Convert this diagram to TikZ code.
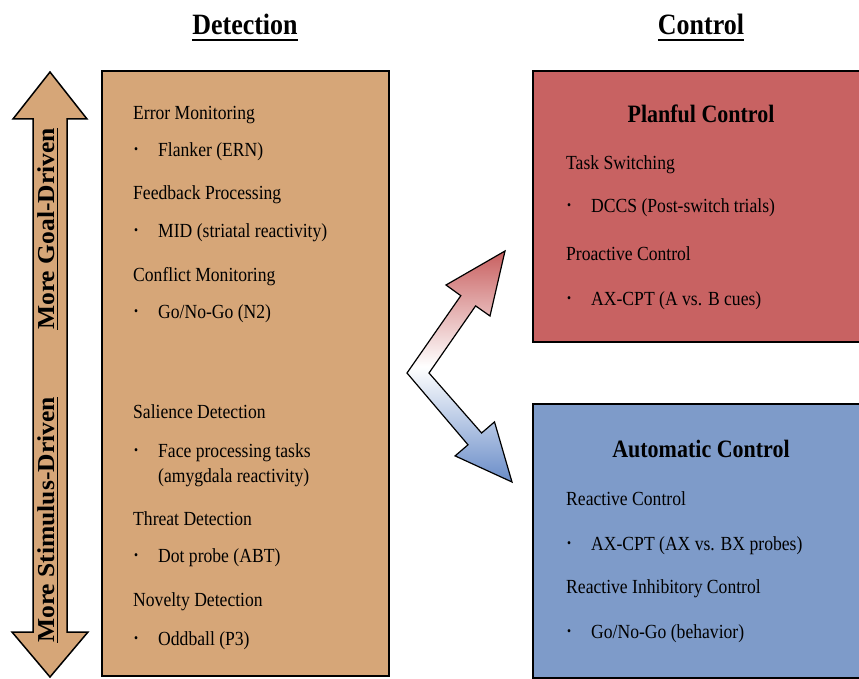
\documentclass[tikz,border=0pt]{standalone}
\usepackage{fontspec}
\setmainfont{Liberation Serif}[FakeStretch=0.88]
\newfontfamily\sidefont{Liberation Serif}[FakeStretch=1.05]
\definecolor{detfill}{RGB}{214,166,120}
\definecolor{planfill}{RGB}{200,98,98}
\definecolor{autofill}{RGB}{126,155,201}
\definecolor{arrred}{RGB}{200,95,95}
\definecolor{arrblue}{RGB}{105,140,200}
\newcommand{\bul}[1]{\makebox[24pt][l]{\raisebox{3pt}{\fontsize{13}{13}\selectfont\textbullet}}#1}

\begin{document}
\begin{tikzpicture}
	[x=1pt,y=-1pt,
	 txt/.style={anchor=base west,inner sep=0pt,font=\fontsize{20}{22}\selectfont},
	 hd/.style={anchor=base,inner sep=0pt,font=\fontsize{25}{28}\selectfont\bfseries},
	 ttl/.style={anchor=base,inner sep=0pt,font=\fontsize{29.5}{32}\selectfont\bfseries},
	 side/.style={anchor=base,inner sep=0pt,rotate=90,font=\sidefont\fontsize{24.3}{28}\selectfont\bfseries},
	 box/.style={draw=black,line width=2.5pt},
	 uline/.style={line width=1.6pt}]
	\useasboundingbox (0,0) rectangle (859,679);
	\clip (0,0) rectangle (859,679);
	
	% titles
	\node[ttl] (tdet) at (245,35) {Detection};
	\node[ttl] (tctl) at (701,35) {Control};
	\draw[uline] ([yshift=-5pt]tdet.base west) -- ([yshift=-5pt]tdet.base east);
	\draw[uline] ([yshift=-5pt]tctl.base west) -- ([yshift=-5pt]tctl.base east);
	
	% side arrow
	\filldraw[fill=detfill,line width=1.5pt,line join=miter]
		(50,72) -- (87,119) -- (67,119) -- (67,632) -- (88,632) -- (50,677)
		-- (12,632) -- (33,632) -- (33,119) -- (13,119) -- cycle;
	\node[side] (goal) at (54,229) {More Goal-Driven};
	\node[side] (stim) at (54,520) {More Stimulus-Driven};
	\draw[uline] ([xshift=3.5pt]goal.base west) -- ([xshift=3.5pt]goal.base east);
	\draw[uline] ([xshift=3.5pt]stim.base west) -- ([xshift=3.5pt]stim.base east);
	
	% boxes
	\filldraw[box,fill=detfill] (102,71) rectangle (389,676);
	\filldraw[box,fill=planfill] (533,71) rectangle (875,342);
	\filldraw[box,fill=autofill] (533,404) rectangle (875,678);
	
	% bent arrow
	\shadedraw[top color=arrred,bottom color=arrblue,middle color=white,
		line width=1.2pt,line join=miter]
		(407,373) -- (460.8,295.7) -- (446,285) -- (505,251) -- (490,316)
		-- (475.6,305.9) -- (429,373) -- (481.6,433) -- (494.5,421.9)
		-- (512,482) -- (455.1,455.9) -- (468,444.8) -- cycle;
	
	% detection
	\node[txt] (err) at (133,120) {Error Monitoring};
	\node[txt] (flk) at (134,157) {\bul{Flanker (ERN)}};
	\node[txt] (fbk) at (133,200) {Feedback Processing};
	\node[txt] (mid) at (134,237) {\bul{MID (striatal reactivity)}};
	\node[txt] (cnf) at (133,281) {Conflict Monitoring};
	\node[txt] (gng) at (134,318) {\bul{Go/No-Go (N2)}};
	\node[txt] (sal) at (133,418) {Salience Detection};
	\node[txt] (fac) at (134,457) {\bul{Face processing tasks}};
	\node[txt] (amy) at (158,482) {(amygdala reactivity)};
	\node[txt] (thr) at (133,525) {Threat Detection};
	\node[txt] (dot) at (134,562) {\bul{Dot probe (ABT)}};
	\node[txt] (nov) at (133,606) {Novelty Detection};
	\node[txt] (odd) at (134,645) {\bul{Oddball (P3)}};
	
	% planful
	\node[hd] (plan) at (701,123) {Planful Control};
	\node[txt] (tsw) at (566,170) {Task Switching};
	\node[txt] (dcc) at (567,213) {\bul{DCCS (Post-switch trials)}};
	\node[txt] (pro) at (566,260) {Proactive Control};
	\node[txt] (axa) at (567,305) {\bul{AX-CPT (A vs. B cues)}};
	
	% automatic
	\node[hd] (auto) at (701,457) {Automatic Control};
	\node[txt] (rea) at (566,505) {Reactive Control};
	\node[txt] (axb) at (567,550) {\bul{AX-CPT (AX vs. BX probes)}};
	\node[txt] (rin) at (566,593) {Reactive Inhibitory Control};
	\node[txt] (gnb) at (567,638) {\bul{Go/No-Go (behavior)}};
\end{tikzpicture}
\end{document}
